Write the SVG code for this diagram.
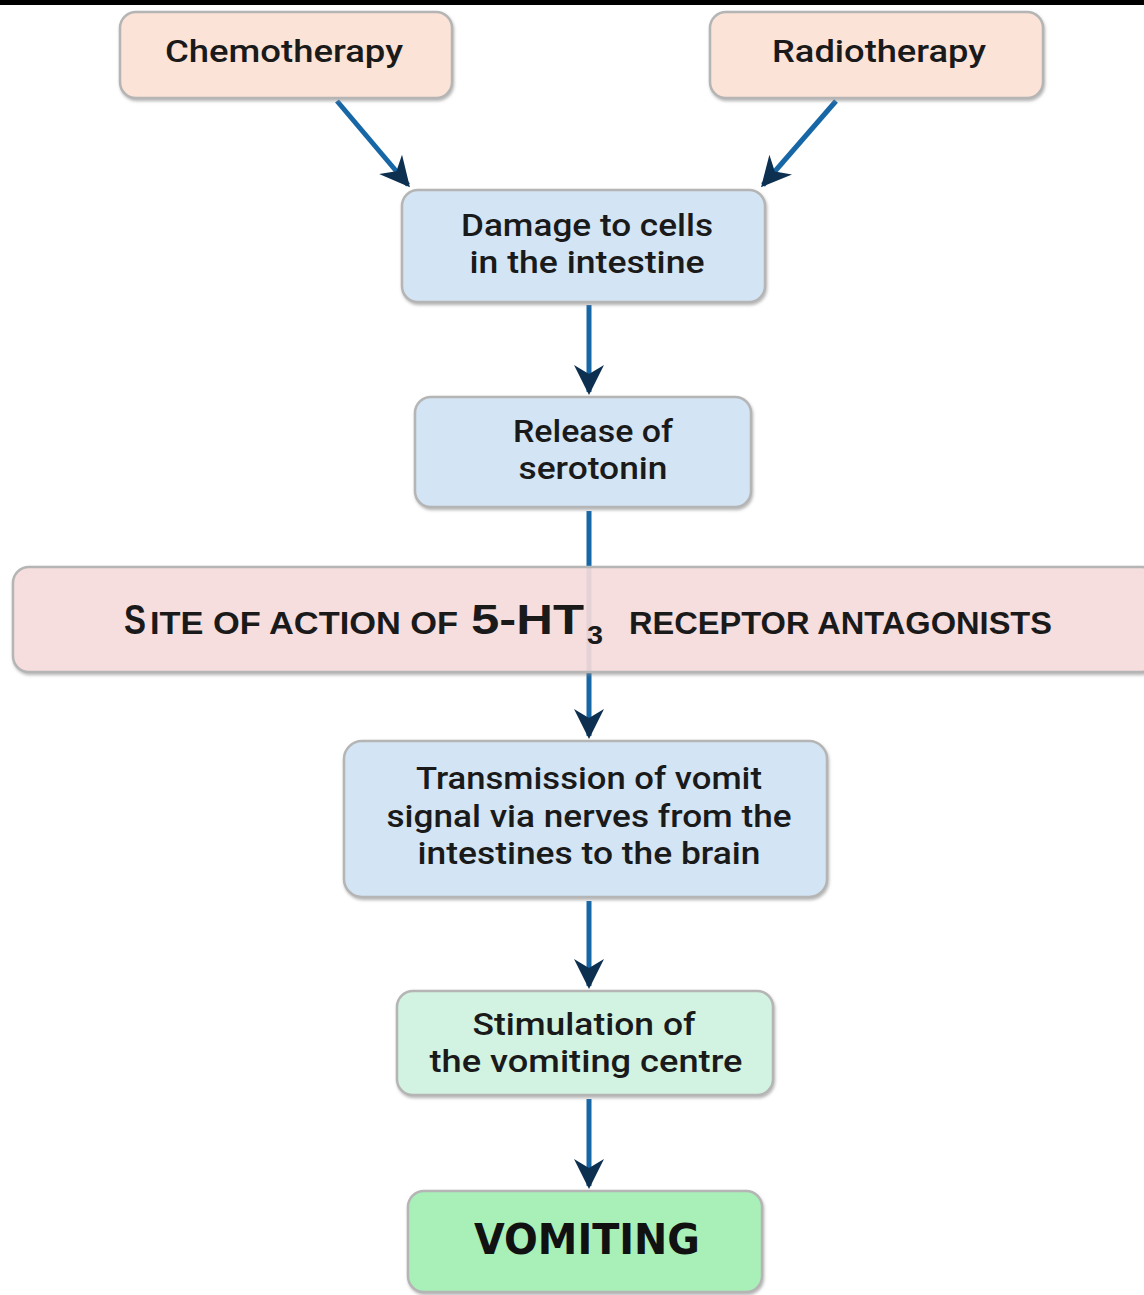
<svg xmlns="http://www.w3.org/2000/svg" width="1144" height="1295" viewBox="0 0 1144 1295">
<style>
.box{stroke:#b5b5b5;stroke-width:2.5;filter:url(#sh)}
.t{font-family:Roboto,"Liberation Sans",sans-serif;font-size:31px;font-weight:500;fill:#1a1a1a;text-anchor:middle}
.con{stroke:#1766a6;stroke-width:5;fill:none;marker-end:url(#ah)}
.band{font-family:"Liberation Sans","Open Sans",sans-serif;font-weight:bold;fill:#1a1a1a}
</style>
<defs>
<filter id="sh" x="-5%" y="-10%" width="110%" height="125%">
<feDropShadow dx="1" dy="2" stdDeviation="1.5" flood-color="#888" flood-opacity="0.6"/>
</filter>
<marker id="ah" viewBox="0 0 10 10" refX="9" refY="5" markerWidth="6" markerHeight="6" orient="auto" markerUnits="strokeWidth">
<path d="M0,0 L10,5 L0,10 L3,5 Z" fill="#0d2f50"/>
</marker>
</defs>
<rect x="0" y="0" width="1144" height="5" fill="#000"/>
<g id="connectors">
<line class="con" x1="337" y1="101" x2="408" y2="185"/>
<line class="con" x1="836" y1="101" x2="763" y2="185"/>
<line class="con" x1="589" y1="305" x2="589" y2="392"/>
<line class="con" x1="589" y1="511" x2="589" y2="736"/>
<line class="con" x1="589" y1="901" x2="589" y2="986"/>
<line class="con" x1="589" y1="1099" x2="589" y2="1186"/>
</g>
<g id="chemo"><rect class="box" x="120" y="12" width="332" height="86" rx="16" fill="#fbe3d7"/><text class="t" x="284" y="62" textLength="238" lengthAdjust="spacingAndGlyphs">Chemotherapy</text></g>
<g id="radio"><rect class="box" x="710" y="12" width="333" height="86" rx="16" fill="#fbe3d7"/><text class="t" x="879" y="62" textLength="214" lengthAdjust="spacingAndGlyphs">Radiotherapy</text></g>
<g id="damage"><rect class="box" x="402" y="190" width="363" height="112" rx="16" fill="#d3e5f4"/><text class="t" x="587" y="236" textLength="252" lengthAdjust="spacingAndGlyphs">Damage to cells</text><text class="t" x="587" y="273" textLength="235" lengthAdjust="spacingAndGlyphs">in the intestine</text></g>
<g id="release"><rect class="box" x="415" y="397" width="336" height="110" rx="16" fill="#d3e5f4"/><text class="t" x="593" y="442" textLength="160" lengthAdjust="spacingAndGlyphs">Release of</text><text class="t" x="593" y="479" textLength="149" lengthAdjust="spacingAndGlyphs">serotonin</text></g>
<g id="site"><rect class="box" x="13" y="567" width="1145" height="105" rx="16" fill="#fde0e1" fill-opacity="0.85"/>
<text class="band" y="634"><tspan x="124" font-size="43" textLength="22" lengthAdjust="spacingAndGlyphs">S</tspan><tspan x="150" font-size="32" textLength="308" lengthAdjust="spacingAndGlyphs">ITE OF ACTION OF</tspan><tspan x="471" font-size="43" textLength="113" lengthAdjust="spacingAndGlyphs">5-HT</tspan><tspan x="587" y="644" font-size="25" textLength="16" lengthAdjust="spacingAndGlyphs">3</tspan><tspan x="629" y="634" font-size="32" textLength="423" lengthAdjust="spacingAndGlyphs">RECEPTOR ANTAGONISTS</tspan></text></g>
<g id="transmission"><rect class="box" x="344" y="741" width="483" height="156" rx="18" fill="#d3e5f4"/><text class="t" x="589" y="789" textLength="346" lengthAdjust="spacingAndGlyphs">Transmission of vomit</text><text class="t" x="589" y="827" textLength="405" lengthAdjust="spacingAndGlyphs">signal via nerves from the</text><text class="t" x="589" y="864" textLength="343" lengthAdjust="spacingAndGlyphs">intestines to the brain</text></g>
<g id="stim"><rect class="box" x="397" y="991" width="376" height="104" rx="16" fill="#d2f3e2"/><text class="t" x="584" y="1035" textLength="223" lengthAdjust="spacingAndGlyphs">Stimulation of</text><text class="t" x="586" y="1072" textLength="313" lengthAdjust="spacingAndGlyphs">the vomiting centre</text></g>
<g id="vomit"><rect class="box" x="408" y="1191" width="354" height="101" rx="16" fill="#a8f0b8"/><text x="587" y="1254" font-family="'DejaVu Sans',sans-serif" font-weight="bold" font-size="42" fill="#111" text-anchor="middle" textLength="226" lengthAdjust="spacingAndGlyphs">VOMITING</text></g>
</svg>
